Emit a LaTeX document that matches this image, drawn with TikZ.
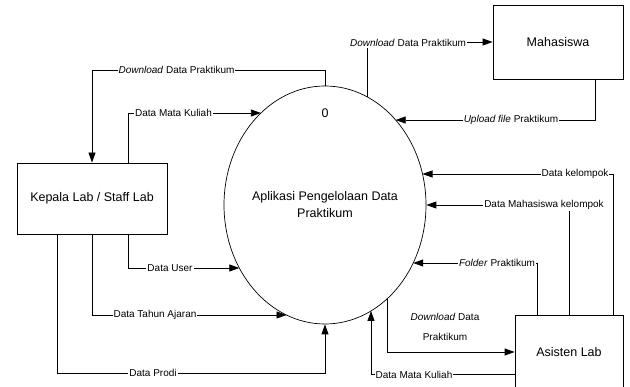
\documentclass[tikz,border=0pt]{standalone}
\usepackage{fontspec}
\setmainfont{Liberation Sans}
\usetikzlibrary{arrows.meta,shapes.geometric}
\tikzset{
  flow/.style={draw, line width=0.8pt, -{Triangle[length=10pt,width=7pt]}},
  plain/.style={draw, line width=0.8pt},
  entity/.style={draw, line width=0.8pt, rectangle, inner sep=0pt, font=\fontsize{12.5}{15}\selectfont},
  lbl/.style={fill=white, inner xsep=1pt, inner ysep=1pt, font=\fontsize{10}{12}\selectfont},
  big/.style={font=\fontsize{12.5}{17}\selectfont, align=center, inner sep=0pt}
}
\begin{document}
\begin{tikzpicture}[x=1pt,y=-1pt]
\clip (0,0) rectangle (630,387);
\fill[white] (0,0) rectangle (630,387);
% nodes
\node[entity, minimum width=150pt, minimum height=71pt] (kepala) at (92,198.5) {Kepala Lab / Staff Lab};
\node[entity, minimum width=130pt, minimum height=74pt] (mhs) at (558,42) {Mahasiswa};
\node[entity, minimum width=108pt, minimum height=74pt] (asisten) at (569,352) {Asisten Lab};
\node[ellipse, draw, line width=0.7pt, inner sep=0pt, minimum width=202pt, minimum height=238pt] (proc) at (325,205) {};
\node[big] (num) at (325,113) {0};
\node[big] (title) at (325,204.5) {Aplikasi Pengelolaan Data\\Praktikum};
% connectors
\draw[flow] (proc.north) |- (92,70) -- (kepala.north);
\draw[flow] ([xshift=36pt]kepala.north) |- (260.9,113);
\draw[flow] (367,96.8) |- (mhs.west);
\draw[flow] ([xshift=37pt]mhs.south) |- (395.7,120);
\draw[flow] ([xshift=44pt]asisten.north) |- (422.5,174);
\draw[flow] (asisten.north) |- (proc.east);
\draw[flow] ([xshift=-32pt]asisten.north) |- (413.2,263);
\draw[flow] (387,298.9) |- (asisten.west);
\draw[flow] ([yshift=-22pt]asisten.west) -| (371,310.9);
\draw[flow] ([xshift=36pt]kepala.south) |- (239.3,268);
\draw[flow] (kepala.south) |- (286.5,315);
\draw[flow] ([xshift=-35pt]kepala.south) |- (proc.south |- 0,373) -- (proc.south);
% labels
\node[lbl] (l1) at (176.5,70) {\textit{Download} Data Praktikum};
\node[lbl] (l2) at (173.5,113) {Data Mata Kuliah};
\node[lbl] (l3) at (408,43) {\textit{Download} Data Praktikum};
\node[lbl] (l4) at (511,120) {\textit{Upload file} Praktikum};
\node[lbl] (l5) at (575,174) {Data kelompok};
\node[lbl] (l6) at (544,205) {Data Mahasiswa kelompok};
\node[lbl] (l7) at (497,263) {\textit{Folder} Praktikum};
\node[lbl, fill=none, align=center, font=\fontsize{10}{20}\selectfont] (l8) at (445,327) {\textit{Download} Data\\Praktikum};
\node[lbl] (l9) at (414,375) {Data Mata Kuliah};
\node[lbl] (l10) at (153,373) {Data Prodi};
\node[lbl] (l11) at (155,315) {Data Tahun Ajaran};
\node[lbl] (l12) at (170,268) {Data User};
\end{tikzpicture}
\end{document}
